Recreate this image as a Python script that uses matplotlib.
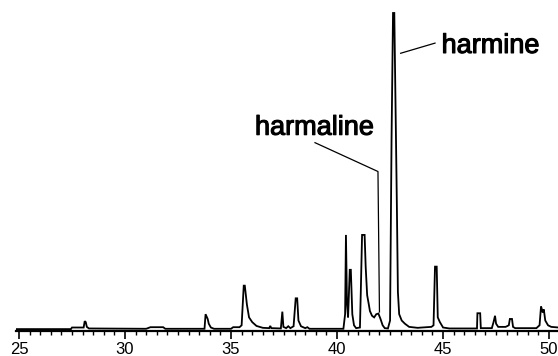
import matplotlib
matplotlib.use("Agg")
import matplotlib.pyplot as plt
import matplotlib.patheffects as pe
from matplotlib.ticker import MultipleLocator

# Retention time (min) and detector response (harmine apex = 100)
time_min = [24.85, 27.45, 27.5, 28.05, 28.1, 28.15, 28.2, 28.3,
            31.0, 31.2, 31.8, 31.9, 33.75, 33.8, 33.9, 33.95, 34.05, 34.2,
            35.0, 35.1, 35.4, 35.5, 35.6, 35.65, 35.75, 35.85, 36.0, 36.2, 36.5,
            36.8, 36.85, 36.9, 37.35, 37.42, 37.47, 37.6, 37.7, 37.8, 37.95,
            38.05, 38.12, 38.18, 38.3, 38.5, 38.6, 38.7,
            40.3, 40.38, 40.42, 40.47, 40.52, 40.6, 40.65, 40.72, 40.8, 40.9,
            41.08, 41.12, 41.18, 41.3, 41.35, 41.42, 41.5, 41.55, 41.65, 41.75,
            41.85, 41.95, 42.05, 42.15, 42.25, 42.4,
            42.5, 42.57, 42.64, 42.7, 42.76, 42.82, 42.87, 42.93, 43.05, 43.2,
            43.4, 43.8, 44.0, 44.45, 44.55, 44.62, 44.7, 44.75, 44.85, 45.0, 45.3,
            46.6, 46.62, 46.75, 46.78, 47.3, 47.38, 47.45, 47.5, 47.6, 47.95,
            48.1, 48.15, 48.25, 48.3, 48.4, 49.4, 49.55, 49.62, 49.7, 49.75,
            49.82, 49.95, 50.1, 50.45]
response = [0.3, 0.3, 0.8, 0.8, 2.8, 2.5, 1.0, 0.5,
            0.4, 0.9, 0.9, 0.4, 0.4, 5.0, 3.5, 2.0, 0.8, 0.4,
            0.4, 0.9, 0.9, 1.5, 14.0, 14.0, 8.0, 4.0, 2.5, 1.3, 0.7,
            0.6, 1.3, 0.6, 0.5, 5.8, 1.0, 0.6, 1.2, 0.6, 1.2,
            10.0, 10.0, 3.0, 1.2, 0.6, 0.9, 0.4,
            0.4, 5.0, 30.0, 8.0, 4.0, 19.0, 19.0, 5.0, 1.5, 0.6,
            0.8, 12.0, 30.0, 30.0, 20.0, 11.0, 8.0, 6.0, 4.5, 4.0,
            5.0, 5.2, 3.5, 1.5, 0.6, 0.5,
            3.0, 60.0, 100.0, 100.0, 70.0, 40.0, 12.0, 5.0, 3.0, 2.0,
            1.0, 0.7, 0.8, 1.0, 1.5, 20.0, 20.0, 4.0, 2.5, 0.8, 0.5,
            0.5, 5.3, 5.3, 0.6, 0.6, 2.5, 4.5, 2.0, 1.0, 1.0,
            1.5, 3.5, 3.5, 1.0, 0.6, 0.6, 1.5, 7.5, 5.5, 6.5,
            3.0, 1.5, 1.0, 0.8]

x_ticks = [25, 30, 35, 40, 45, 50]
x_tick_labels = ["25", "30", "35", "40", "45", "50"]

labels = ["harmaline", "harmine"]
label_xy = [(36.13, 61.6), (44.93, 87.4)]
leader_x = [[38.96, 41.93, 42.0], [43.0, 44.62]]
leader_y = [[59.1, 50.0, 5.7], [87.3, 90.5]]

fig = plt.figure(figsize=(5.58, 3.56), dpi=100)
ax = fig.add_axes([16 / 558, 25 / 356, 542 / 558, 321 / 356])
ax.plot(time_min, response, color="black", lw=1.3, solid_joinstyle="miter")
ax.set_xlim(24.86, 50.42)
ax.set_ylim(-0.3, 100 * 321 / 318)

for s in ["left", "top", "right"]:
    ax.spines[s].set_visible(False)
ax.spines["bottom"].set_linewidth(1.6)
ax.set_yticks([])
ax.set_xticks(x_ticks)
ax.set_xticklabels(x_tick_labels, family=["Liberation Sans Narrow", "Liberation Sans"],
                   fontsize=12)
ax.xaxis.set_minor_locator(MultipleLocator(0.5))
ax.tick_params(axis="x", which="major", direction="out", length=6, width=1.2, pad=2)
ax.tick_params(axis="x", which="minor", direction="out", length=3, width=1.0)

for name, (tx, ty), lx, ly in zip(labels, label_xy, leader_x, leader_y):
    ax.text(tx, ty, name, fontsize=19.5, family="Liberation Sans",
            ha="left", va="baseline",
            path_effects=[pe.withStroke(linewidth=0.8, foreground="black")])
    ax.plot(lx, ly, color="black", lw=0.9)

fig.savefig("out.png", dpi=100)
